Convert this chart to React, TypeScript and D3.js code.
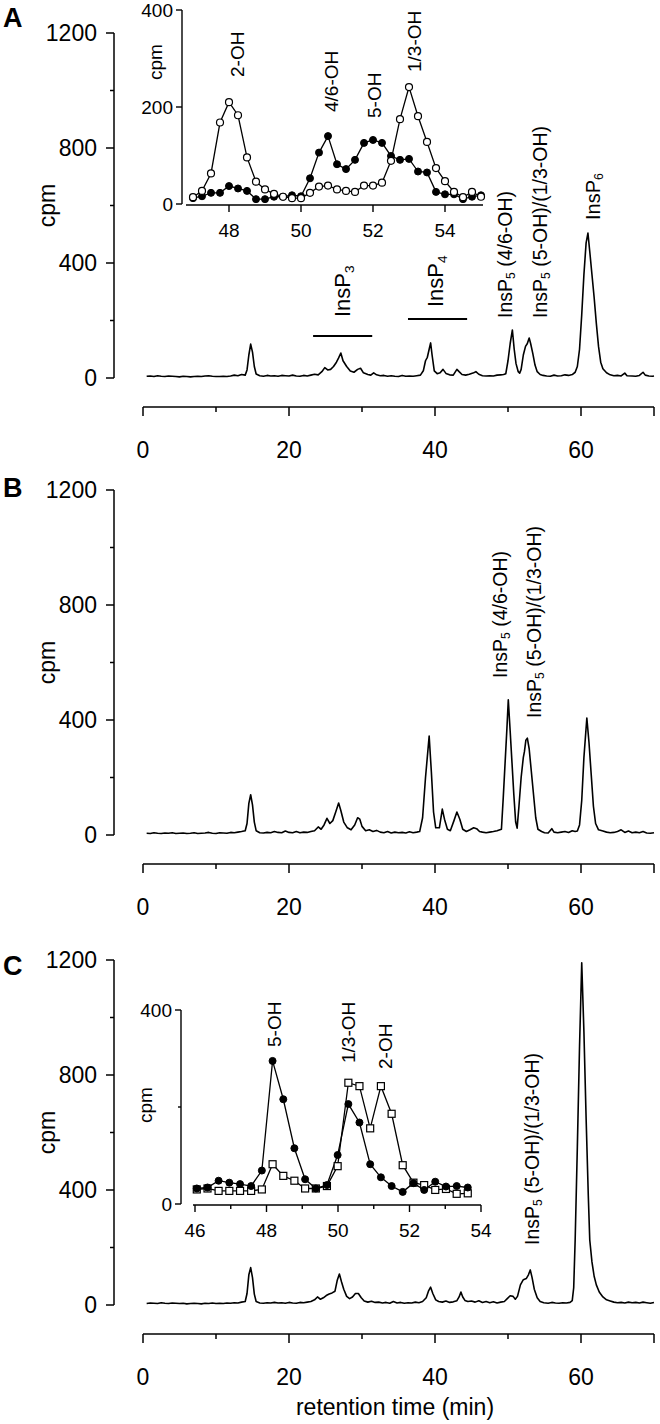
import * as d3 from 'd3';

const FONT = '"Liberation Sans", Arial, Helvetica, sans-serif';

// main chromatogram axes
const timeTicks = [0, 10, 20, 30, 40, 50, 60, 70];
const timeTickLabels = [0, 20, 40, 60];
const cpmTicks = [0, 200, 400, 600, 800, 1000, 1200];
const cpmTickLabels = [0, 400, 800, 1200];

// [retention time (min), cpm]
const traceA: [number, number][] = [
  [0.5, 6], [1, 7], [1.5, 5], [2, 8], [2.5, 6], [3, 5], [3.5, 7], [4, 6], [4.5, 5], [5, 4], [5.5, 6], [6, 5], [6.5, 4],
  [7, 5], [7.5, 6], [8, 5], [8.5, 7], [9, 8], [9.5, 6], [10, 5], [10.5, 5], [11, 6], [11.5, 5], [12, 7], [12.5, 10],
  [13, 8], [13.5, 12], [14, 10], [14.25, 28], [14.5, 80], [14.75, 118], [15.0, 90], [15.25, 40], [15.5, 14], [16, 8],
  [16.5, 6], [17, 9], [17.5, 7], [18, 8], [18.5, 6], [19, 9], [19.5, 8], [20, 7], [20.5, 10], [21, 7], [21.5, 6], [22, 9],
  [22.5, 7], [23, 10], [23.5, 13], [24, 11], [24.5, 22], [24.9, 36], [25.3, 28], [25.7, 30], [26.1, 40], [26.5, 55],
  [26.8, 70], [27.1, 87], [27.4, 60], [27.9, 40], [28.4, 24], [28.9, 20], [29.4, 30], [29.8, 34], [30.2, 18],
  [30.8, 12], [31.2, 10], [31.6, 18], [32, 11], [32.5, 8], [33, 9], [33.5, 6], [34, 8], [34.5, 6], [35, 5], [35.5, 9],
  [36, 6], [36.5, 7], [37, 6], [37.5, 8], [38.0, 10], [38.4, 25], [38.7, 60], [38.95, 72], [39.2, 100], [39.4, 122],
  [39.6, 80], [39.9, 25], [40.3, 15], [40.7, 18], [41.1, 30], [41.5, 16], [42, 11], [42.5, 10], [43, 30], [43.3, 22],
  [43.7, 12], [44.2, 10], [44.7, 13], [45.2, 17], [45.6, 22], [46, 13], [46.5, 8], [47, 7], [47.5, 8], [48, 7],
  [48.5, 10], [49, 11], [49.4, 12], [49.7, 15], [50.0, 60], [50.3, 120], [50.6, 167], [50.85, 100], [51.1, 50],
  [51.4, 22], [51.6, 17], [51.8, 30], [52.1, 80], [52.4, 110], [52.65, 120], [52.9, 139], [53.1, 120], [53.4, 85],
  [53.7, 45], [54.0, 22], [54.4, 12], [54.8, 9], [55.3, 7], [55.8, 6], [56.3, 10], [56.8, 7], [57.3, 8], [57.8, 11],
  [58.3, 9], [58.8, 12], [59.2, 20], [59.5, 40], [59.8, 100], [60.1, 220], [60.4, 360], [60.7, 470], [60.95, 504],
  [61.2, 440], [61.5, 360], [61.8, 280], [62.1, 190], [62.4, 110], [62.7, 55], [63.0, 32], [63.5, 18], [64, 11],
  [64.5, 8], [65, 9], [65.5, 7], [66, 17], [66.3, 8], [67, 7], [67.5, 6], [68, 9], [68.5, 20], [68.8, 10], [69.3, 7],
  [69.8, 6], [70, 7],
];

const traceB: [number, number][] = [
  [0.5, 6], [1, 5], [1.5, 8], [2, 6], [2.5, 5], [3, 7], [3.5, 6], [4, 8], [4.5, 5], [5, 6], [5.5, 7], [6, 5], [6.5, 6],
  [7, 8], [7.5, 5], [8, 6], [8.5, 7], [9, 9], [9.5, 6], [10, 5], [10.5, 8], [11, 7], [11.5, 6], [12, 9], [12.5, 8],
  [13, 10], [13.5, 12], [14, 15], [14.25, 40], [14.5, 110], [14.75, 140], [15.0, 105], [15.25, 45], [15.5, 15],
  [16, 8], [16.5, 7], [17, 9], [17.5, 8], [18, 12], [18.5, 9], [19, 8], [19.5, 14], [20, 9], [20.5, 8], [21, 12],
  [21.5, 8], [22, 10], [22.5, 9], [23, 12], [23.5, 15], [24, 28], [24.4, 20], [24.8, 35], [25.2, 58], [25.6, 40],
  [26, 50], [26.4, 80], [26.8, 111], [27.1, 85], [27.5, 45], [28, 25], [28.5, 18], [29, 35], [29.4, 60], [29.7, 55],
  [30, 30], [30.5, 15], [31, 18], [31.5, 12], [32, 16], [32.5, 10], [33, 8], [33.5, 12], [34, 7], [34.5, 10], [35, 8],
  [35.5, 9], [36, 7], [36.5, 11], [37, 8], [37.5, 10], [37.9, 12], [38.3, 60], [38.7, 200], [39.2, 344], [39.5, 220],
  [39.8, 80], [40.1, 25], [40.6, 25], [41, 90], [41.3, 55], [41.7, 20], [42.1, 15], [42.6, 50], [43, 80], [43.4, 55],
  [43.8, 20], [44.3, 12], [44.8, 18], [45.3, 25], [45.7, 22], [46.1, 12], [46.5, 10], [47, 8], [47.5, 10], [48, 12],
  [48.5, 15], [49.1, 20], [49.35, 130], [49.6, 250], [49.85, 370], [50.04, 470], [50.3, 360], [50.55, 250],
  [50.8, 140], [51.05, 45], [51.25, 24], [51.5, 100], [51.8, 200], [52.1, 270], [52.25, 290], [52.45, 330],
  [52.65, 337], [52.9, 300], [53.2, 220], [53.5, 140], [53.8, 60], [54.1, 20], [54.6, 12], [55, 8], [55.5, 7],
  [56, 22], [56.3, 10], [56.8, 8], [57.3, 10], [57.8, 12], [58.3, 9], [58.8, 15], [59.2, 12], [59.5, 14], [59.8, 35],
  [60.1, 120], [60.4, 270], [60.8, 407], [61.1, 320], [61.4, 210], [61.7, 100], [62.0, 40], [62.4, 18], [63, 14],
  [63.5, 10], [64, 8], [64.5, 9], [65, 12], [65.5, 18], [66, 9], [66.5, 14], [67, 8], [67.5, 10], [68, 8], [68.5, 12],
  [69, 7], [69.5, 6], [70, 8],
];

const traceC: [number, number][] = [
  [0.5, 5], [1, 7], [1.5, 6], [2, 5], [2.5, 8], [3, 6], [3.5, 5], [4, 7], [4.5, 6], [5, 5], [5.5, 6], [6, 4], [6.5, 5],
  [7, 6], [7.5, 5], [8, 4], [8.5, 6], [9, 5], [9.5, 7], [10, 5], [10.5, 6], [11, 5], [11.5, 7], [12, 6], [12.5, 8],
  [13, 7], [13.5, 10], [14, 12], [14.25, 40], [14.5, 105], [14.75, 130], [15.0, 95], [15.25, 38], [15.5, 12], [16, 7],
  [16.5, 6], [17, 8], [17.5, 7], [18, 9], [18.5, 7], [19, 8], [19.5, 6], [20, 9], [20.5, 7], [21, 6], [21.5, 9],
  [22, 8], [22.5, 10], [23, 12], [23.5, 18], [23.9, 28], [24.3, 20], [24.7, 25], [25.1, 33], [25.5, 38], [25.9, 42],
  [26.3, 48], [26.6, 85], [26.9, 108], [27.2, 80], [27.5, 55], [27.9, 30], [28.3, 22], [28.7, 28], [29.1, 40],
  [29.5, 40], [29.9, 25], [30.3, 14], [30.8, 10], [31.3, 13], [31.8, 9], [32.3, 10], [32.8, 7], [33.3, 9], [33.8, 6],
  [34.3, 12], [34.8, 7], [35.3, 9], [35.8, 6], [36.3, 8], [36.8, 7], [37.3, 10], [37.8, 8], [38.3, 12], [38.8, 25],
  [39.1, 48], [39.4, 62], [39.7, 40], [40.1, 18], [40.5, 12], [41, 10], [41.5, 14], [42, 9], [42.5, 11], [43, 15],
  [43.3, 28], [43.55, 45], [43.8, 28], [44.1, 16], [44.5, 12], [45, 14], [45.5, 10], [46, 15], [46.5, 9], [47, 12],
  [47.5, 8], [48, 11], [48.5, 7], [49, 10], [49.5, 12], [49.9, 22], [50.3, 32], [50.7, 30], [51, 20], [51.3, 30],
  [51.7, 70], [52.1, 88], [52.5, 92], [52.8, 105], [53.05, 122], [53.3, 95], [53.6, 55], [54, 25], [54.4, 12],
  [54.9, 8], [55.5, 6], [56, 9], [56.5, 7], [57, 6], [57.5, 8], [58, 7], [58.5, 9], [58.8, 15], [59.0, 60],
  [59.2, 226], [59.5, 550], [59.8, 900], [60.1, 1190], [60.4, 950], [60.7, 650], [61.0, 380], [61.2, 226],
  [61.5, 150], [61.8, 100], [62.1, 70], [62.5, 45], [63, 28], [63.5, 18], [64, 14], [64.5, 10], [65, 8], [65.5, 9],
  [66, 7], [66.5, 10], [67, 8], [67.5, 9], [68, 7], [68.5, 10], [69, 8], [69.5, 6], [70, 9],
];

// inset A (fractions 47-55 min)
const insetATime = [
  47.0, 47.25, 47.5, 47.75, 48.0, 48.25, 48.5, 48.75, 49.0, 49.25, 49.5, 49.75, 50.0, 50.25, 50.5, 50.75, 51.0,
  51.25, 51.5, 51.75, 52.0, 52.25, 52.5, 52.75, 53.0, 53.25, 53.5, 53.75, 54.0, 54.25, 54.5, 54.75, 55.0,
];
const insetAOpen = [
  14, 27, 63, 168, 210, 183, 96, 46, 30, 21, 15, 12, 12, 23, 36, 38, 30, 27, 25, 38, 38, 44, 89, 175, 241, 181, 128,
  74, 47, 25, 14, 25, 15,
];
const insetAFilled = [
  12, 16, 23, 23, 37, 32, 27, 10, 10, 15, 15, 18, 16, 53, 106, 140, 82, 72, 91, 126, 132, 126, 99, 91, 93, 67, 65, 25,
  20, 20, 10, 15, 18,
];
const insetATicks = [48, 50, 52, 54];
const insetAYTicks = [0, 200, 400];

// inset C (fractions 46-54 min)
const insetCTime = [
  46.05, 46.35, 46.66, 46.96, 47.26, 47.57, 47.87, 48.17, 48.47, 48.78, 49.08, 49.38, 49.69, 49.99, 50.29, 50.6,
  50.9, 51.2, 51.5, 51.81, 52.11, 52.41, 52.72, 53.02, 53.32, 53.63,
];
const insetCOpen = [
  30, 32, 27, 27, 27, 27, 30, 82, 58, 48, 32, 32, 37, 78, 250, 243, 156, 243, 186, 80, 44, 39, 29, 31, 21, 22,
];
const insetCFilled = [
  32, 34, 48, 44, 41, 37, 69, 295, 216, 115, 51, 32, 39, 101, 206, 168, 82, 55, 37, 25, 43, 29, 46, 36, 37, 34,
];
const insetCTicks = [46, 47, 48, 49, 50, 51, 52, 53, 54];
const insetCTickLabels = [46, 48, 50, 52, 54];
const insetCYTicks = [0, 200, 400];
const insetCYTickLabels = [0, 400];

const panelLetters = ['A', 'B', 'C'];

const x = d3.scaleLinear().domain([0, 70]).range([143, 654]);

const panels = [
  { letter: panelLetters[0], trace: traceA, yTop: 33, yZero: 378, axisY: 407, letterY: 27 },
  { letter: panelLetters[1], trace: traceB, yTop: 490, yZero: 835, axisY: 864, letterY: 497 },
  { letter: panelLetters[2], trace: traceC, yTop: 960, yZero: 1305, axisY: 1334, letterY: 975 },
];

function RotLabel({ cx, bottom, base, sub, rest, size }: any) {
  return (
    <text
      transform={`translate(${cx},${bottom}) rotate(-90)`}
      fontSize={size}
      dominantBaseline="central"
      fontFamily={FONT}
    >
      {base}
      {sub && (
        <tspan fontSize={size * 0.62} dy={size * 0.3}>
          {sub}
        </tspan>
      )}
      {rest && <tspan dy={-size * 0.3}>{rest}</tspan>}
    </text>
  );
}

function MainPanel({ p }: any) {
  const y = d3.scaleLinear().domain([0, 1200]).range([p.yZero, p.yTop]);
  const line = d3
    .line<[number, number]>()
    .x((d) => x(d[0]))
    .y((d) => y(d[1]));
  return (
    <g>
      <text x={3} y={p.letterY} fontSize={27} fontWeight="bold" fontFamily={FONT}>
        {p.letter}
      </text>
      <line x1={114} x2={114} y1={y(1200)} y2={y(0)} stroke="#000" strokeWidth={1.5} />
      {cpmTicks.map((t) => {
        const major = cpmTickLabels.includes(t);
        return (
          <line key={t} x1={114 - (major ? 8 : 4)} x2={114} y1={y(t)} y2={y(t)} stroke="#000" strokeWidth={1.5} />
        );
      })}
      {cpmTickLabels.map((t) => (
        <text key={t} x={97} y={y(t)} dy="0.36em" textAnchor="end" fontSize={23} fontFamily={FONT}>
          {t}
        </text>
      ))}
      <text
        transform={`translate(47,${(y(0) + y(1200)) / 2}) rotate(-90)`}
        textAnchor="middle"
        dominantBaseline="central"
        fontSize={23}
        fontFamily={FONT}
      >
        cpm
      </text>
      <line x1={x(0)} x2={x(70)} y1={p.axisY} y2={p.axisY} stroke="#000" strokeWidth={1.5} />
      {timeTicks.map((t) => {
        const major = timeTickLabels.includes(t) || t === 70;
        return (
          <line
            key={t}
            x1={x(t)}
            x2={x(t)}
            y1={p.axisY}
            y2={p.axisY + (major ? 9 : 5)}
            stroke="#000"
            strokeWidth={1.5}
          />
        );
      })}
      {timeTickLabels.map((t) => (
        <text key={t} x={x(t)} y={p.axisY + 51} textAnchor="middle" fontSize={23} fontFamily={FONT}>
          {t}
        </text>
      ))}
      <path d={line(p.trace) || ''} fill="none" stroke="#000" strokeWidth={1.6} strokeLinejoin="round" />
    </g>
  );
}

function Inset({ cfg }: any) {
  const xs = d3.scaleLinear().domain(cfg.xDomain).range(cfg.xRange);
  const ys = d3.scaleLinear().domain([0, 400]).range(cfg.yRange);
  const mk = (vals: number[]) =>
    d3
      .line<number>()
      .x((_, i) => xs(cfg.time[i]))
      .y((d) => ys(d))(vals) || '';
  const ax = cfg.axisX;
  return (
    <g fontFamily={FONT}>
      <line x1={ax} x2={ax} y1={ys(400)} y2={ys(0)} stroke="#000" strokeWidth={1.4} />
      {cfg.yTicks.map((t: number) => {
        const lab = cfg.yTickLabels.includes(t);
        return <line key={t} x1={ax - (lab ? 6 : 3)} x2={ax} y1={ys(t)} y2={ys(t)} stroke="#000" strokeWidth={1.4} />;
      })}
      {cfg.yTickLabels.map((t: number) => (
        <text key={t} x={ax - 9} y={ys(t)} dy="0.36em" textAnchor="end" fontSize={19}>
          {t}
        </text>
      ))}
      <text
        transform={`translate(${cfg.cpmX},${cfg.cpmY}) rotate(-90)`}
        textAnchor="middle"
        dominantBaseline="central"
        fontSize={19}
      >
        cpm
      </text>
      <line x1={cfg.xLineStart} x2={cfg.xLineEnd} y1={cfg.xAxisY} y2={cfg.xAxisY} stroke="#000" strokeWidth={1.4} />
      {cfg.xTicks.map((t: number) => {
        const lab = cfg.xTickLabels.includes(t);
        return (
          <line
            key={t}
            x1={xs(t)}
            x2={xs(t)}
            y1={cfg.xAxisY}
            y2={cfg.xAxisY + (lab ? 7 : 4)}
            stroke="#000"
            strokeWidth={1.4}
          />
        );
      })}
      {cfg.xTickLabels.map((t: number) => (
        <text key={t} x={xs(t)} y={cfg.xAxisY + 32} textAnchor="middle" fontSize={19}>
          {t}
        </text>
      ))}
      <path d={mk(cfg.seriesB)} fill="none" stroke="#000" strokeWidth={1.3} />
      <path d={mk(cfg.seriesA)} fill="none" stroke="#000" strokeWidth={1.3} />
      {cfg.seriesB.map((v: number, i: number) =>
        cfg.markerB === 'square' ? (
          <rect
            key={i}
            x={xs(cfg.time[i]) - 3.5}
            y={ys(v) - 3.5}
            width={7}
            height={7}
            fill="#fff"
            stroke="#000"
            strokeWidth={1.2}
          />
        ) : (
          <circle key={i} cx={xs(cfg.time[i])} cy={ys(v)} r={3.5} fill="#000" stroke="#000" strokeWidth={1} />
        )
      )}
      {cfg.seriesA.map((v: number, i: number) =>
        cfg.markerA === 'open' ? (
          <circle key={i} cx={xs(cfg.time[i])} cy={ys(v)} r={3.5} fill="#fff" stroke="#000" strokeWidth={1.2} />
        ) : (
          <circle key={i} cx={xs(cfg.time[i])} cy={ys(v)} r={3.5} fill="#000" stroke="#000" strokeWidth={1} />
        )
      )}
      {cfg.labels.map((l: any) => (
        <RotLabel key={l.text} cx={l.cx} bottom={l.bottom} base={l.text} size={19} />
      ))}
    </g>
  );
}

const insetA = {
  time: insetATime,
  xDomain: [48, 50],
  xRange: [229, 301],
  yRange: [204, 10],
  axisX: 182,
  xAxisY: 205,
  xLineStart: 186,
  xLineEnd: 483,
  xTicks: insetATicks,
  xTickLabels: insetATicks,
  yTicks: insetAYTicks,
  yTickLabels: insetAYTicks,
  cpmX: 155,
  cpmY: 62,
  seriesA: insetAOpen,
  markerA: 'open',
  seriesB: insetAFilled,
  markerB: 'filled',
  labels: [
    { text: '2-OH', cx: 237, bottom: 77 },
    { text: '4/6-OH', cx: 331, bottom: 112 },
    { text: '5-OH', cx: 374, bottom: 118 },
    { text: '1/3-OH', cx: 414, bottom: 72 },
  ],
};

const insetC = {
  time: insetCTime,
  xDomain: [46, 54],
  xRange: [195, 481],
  yRange: [1204, 1010],
  axisX: 181,
  xAxisY: 1205,
  xLineStart: 193,
  xLineEnd: 481,
  xTicks: insetCTicks,
  xTickLabels: insetCTickLabels,
  yTicks: insetCYTicks,
  yTickLabels: insetCYTickLabels,
  cpmX: 145,
  cpmY: 1105,
  seriesA: insetCFilled,
  markerA: 'filled',
  seriesB: insetCOpen,
  markerB: 'square',
  labels: [
    { text: '5-OH', cx: 274, bottom: 1047 },
    { text: '1/3-OH', cx: 348, bottom: 1063 },
    { text: '2-OH', cx: 385, bottom: 1069 },
  ],
};

const peakLabels = [
  { base: 'InsP', sub: '3', rest: '', cx: 342, bottom: 317, size: 22 },
  { base: 'InsP', sub: '4', rest: '', cx: 435, bottom: 307, size: 22 },
  { base: 'InsP', sub: '5', rest: ' (4/6-OH)', cx: 505, bottom: 318, size: 19.5 },
  { base: 'InsP', sub: '5', rest: ' (5-OH)/(1/3-OH)', cx: 540, bottom: 318, size: 19.5 },
  { base: 'InsP', sub: '6', rest: '', cx: 593, bottom: 220, size: 20 },
  { base: 'InsP', sub: '5', rest: ' (4/6-OH)', cx: 500, bottom: 678, size: 19.5 },
  { base: 'InsP', sub: '5', rest: ' (5-OH)/(1/3-OH)', cx: 534, bottom: 718, size: 19.5 },
  { base: 'InsP', sub: '5', rest: ' (5-OH)/(1/3-OH)', cx: 532, bottom: 1245, size: 19.5 },
];

// fraction ranges marked with bars in panel A
const insP3Range = [23.3, 31.4];
const insP4Range = [36.3, 44.4];

export default function App() {
  return (
    <svg
      width={660}
      height={1424}
      style={{ position: 'absolute', left: 0, top: 0, background: '#fff' }}
      fontFamily={FONT}
    >
      <rect width={660} height={1424} fill="#fff" />
      {panels.map((p) => (
        <MainPanel key={p.letter} p={p} />
      ))}
      <line x1={x(insP3Range[0])} x2={x(insP3Range[1])} y1={336} y2={336} stroke="#000" strokeWidth={2} />
      <line x1={x(insP4Range[0])} x2={x(insP4Range[1])} y1={319} y2={319} stroke="#000" strokeWidth={2} />
      {peakLabels.map((l, i) => (
        <RotLabel key={i} {...l} />
      ))}
      <Inset cfg={insetA} />
      <Inset cfg={insetC} />
      <text x={395} y={1415} textAnchor="middle" fontSize={23} fontFamily={FONT}>
        retention time (min)
      </text>
    </svg>
  );
}
